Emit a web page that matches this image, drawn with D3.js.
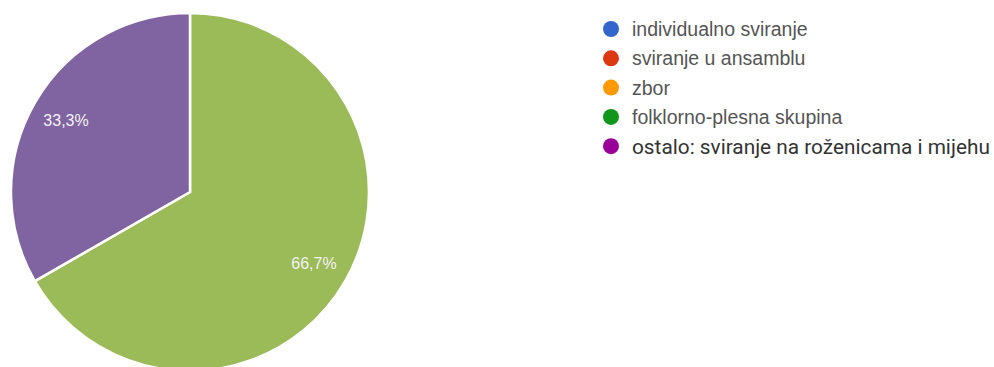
<!doctype html>
<html>
<head>
    <meta charset="utf-8">
    <style>
        body { margin: 0; background: #fff; }
        text { font-family: Arial, "Liberation Sans", sans-serif; }
    </style>
    <script src="https://d3js.org/d3.v7.min.js"></script>
</head>
<body>
<svg width="994" height="367"></svg>
<script>
// legend categories and their colours
var categories = ["individualno sviranje", "sviranje u ansamblu", "zbor", "folklorno-plesna skupina", "ostalo: sviranje na roženicama i mijehu"];
var legendColors = ["#3366cc", "#dc3912", "#ff9900", "#109618", "#990099"];

// slices actually drawn (share in %)
var sliceNames = ["folklorno-plesna skupina", "ostalo: sviranje na roženicama i mijehu"];
var sliceValues = [66.7, 33.3];
var sliceLabels = ["66,7%", "33,3%"];
var sliceColors = ["#9bbb59", "#8064a2"];

var svg = d3.select("svg"),
    cx = 190, cy = 192, radius = 179;

var pie = d3.pie().sort(null).value(function(d) { return d; });
var arc = d3.arc().innerRadius(0).outerRadius(radius);
var labelArc = d3.arc().innerRadius(radius * 0.8).outerRadius(radius * 0.8);

var g = svg.append("g")
    .attr("transform", "translate(" + cx + "," + cy + ")");

var slices = g.selectAll(".slice")
    .data(pie(sliceValues))
    .enter().append("g")
    .attr("class", "slice");

slices.append("path")
    .attr("d", arc)
    .attr("fill", function(d, i) { return sliceColors[i]; })
    .attr("stroke", "#fff")
    .attr("stroke-width", 2.5);

slices.append("text")
    .attr("transform", function(d) { return "translate(" + labelArc.centroid(d) + ")"; })
    .attr("text-anchor", "middle")
    .attr("dy", "0.35em")
    .attr("font-size", "16px")
    .attr("fill", "#f2f2f2")
    .text(function(d, i) { return sliceLabels[i]; });

// legend
var legend = svg.append("g")
    .attr("transform", "translate(611,29)");

var rows = legend.selectAll(".row")
    .data(categories)
    .enter().append("g")
    .attr("class", "row")
    .attr("transform", function(d, i) { return "translate(0," + (i * 29.3) + ")"; });

rows.append("circle")
    .attr("r", 8)
    .attr("fill", function(d, i) { return legendColors[i]; });

rows.append("text")
    .attr("x", 21)
    .attr("dy", "0.36em")
    .attr("font-size", "19.5px")
    .attr("fill", "#555")
    .text(function(d) { return d; });

// last entry looks darker and wider in the original
rows.filter(function(d, i) { return i === categories.length - 1; })
    .select("text")
    .style("font-family", "Roboto, sans-serif")
    .attr("font-size", "20.8px")
    .attr("fill", "#333");
</script>
</body>
</html>
